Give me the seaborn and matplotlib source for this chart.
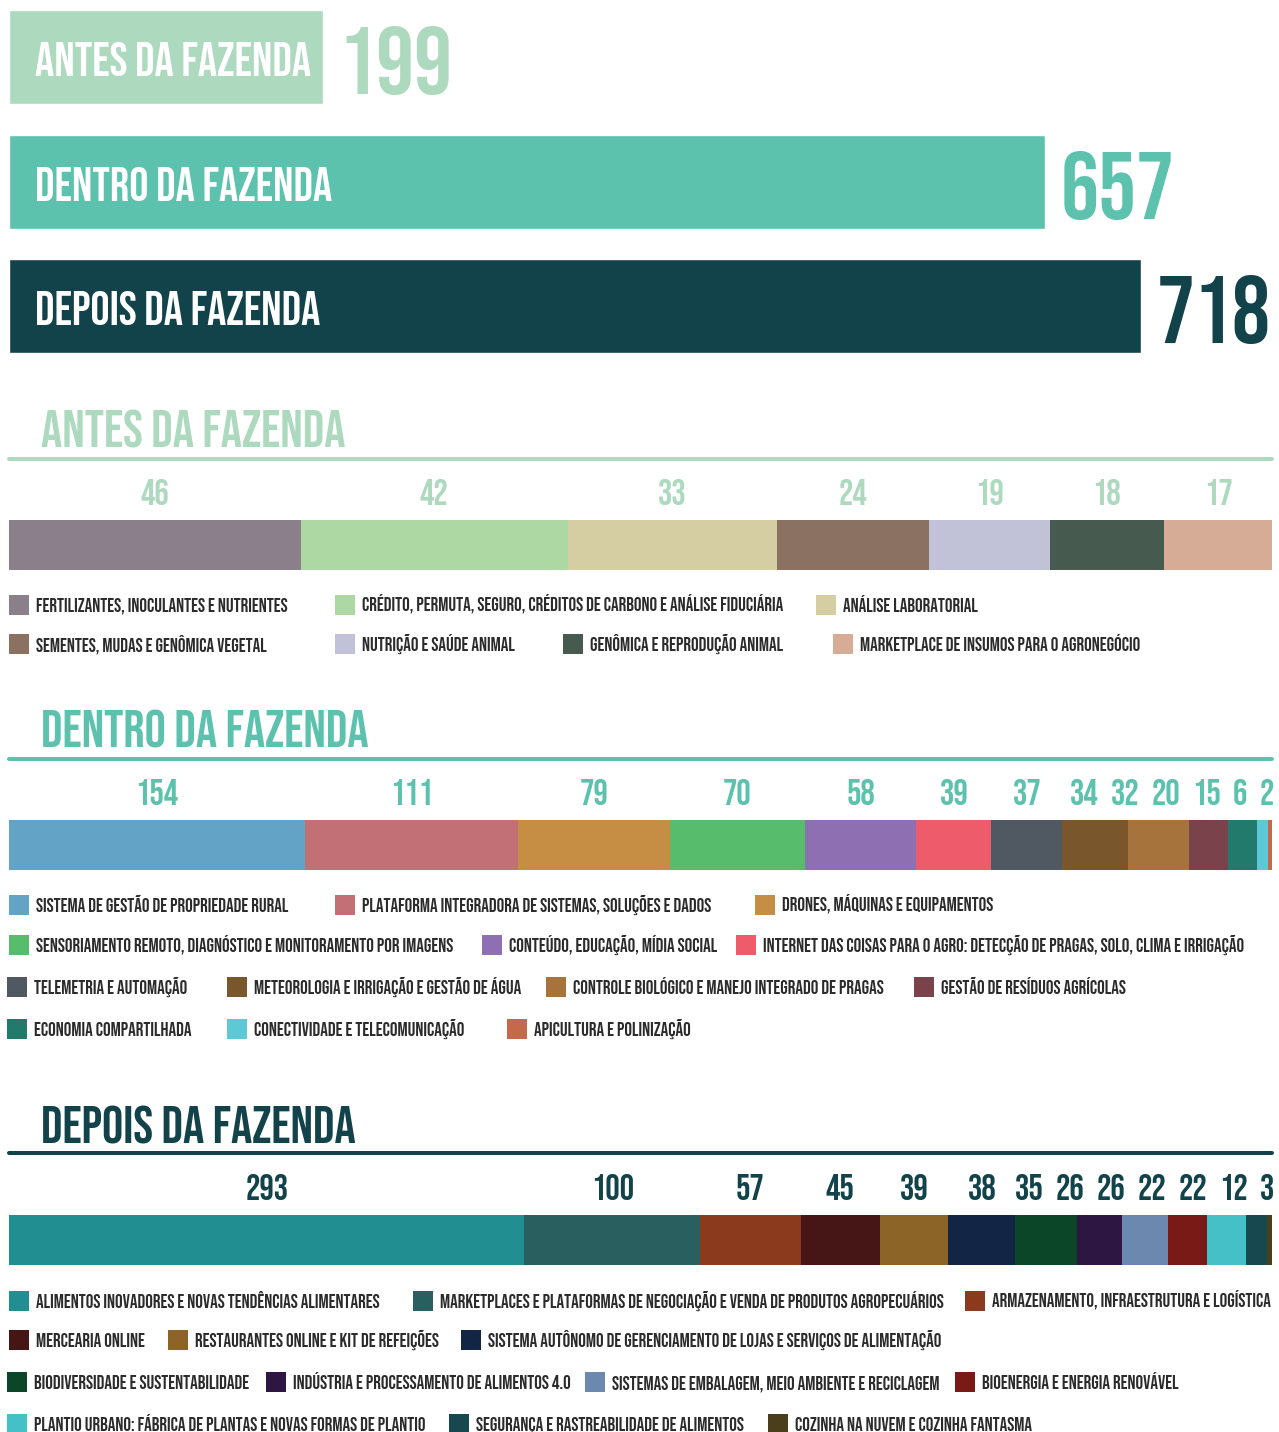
import matplotlib
matplotlib.use("Agg")
import matplotlib.pyplot as plt
import matplotlib.transforms as mtransforms
from matplotlib.patches import Rectangle
from matplotlib.lines import Line2D
import numpy as np
import pandas as pd
import seaborn as sns

# ---- data ----
stages = ["ANTES DA FAZENDA", "DENTRO DA FAZENDA", "DEPOIS DA FAZENDA"]
stage_totals = [199, 657, 718]
stage_colors = ["#ADD9BF", "#5CC2AD", "#13434A"]

antes_labels = [
    "FERTILIZANTES, INOCULANTES E NUTRIENTES",
    "CRÉDITO, PERMUTA, SEGURO, CRÉDITOS DE CARBONO E ANÁLISE FIDUCIÁRIA",
    "ANÁLISE LABORATORIAL",
    "SEMENTES, MUDAS E GENÔMICA VEGETAL",
    "NUTRIÇÃO E SAÚDE ANIMAL",
    "GENÔMICA E REPRODUÇÃO ANIMAL",
    "MARKETPLACE DE INSUMOS PARA O AGRONEGÓCIO",
]
antes_values = [46, 42, 33, 24, 19, 18, 17]
antes_colors = ["#8C7F8C", "#ADD8A3", "#D6CEA3", "#8A7161", "#C1C2D8", "#465A4F", "#D6AC96"]

dentro_labels = [
    "SISTEMA DE GESTÃO DE PROPRIEDADE RURAL",
    "PLATAFORMA INTEGRADORA DE SISTEMAS, SOLUÇÕES E DADOS",
    "DRONES, MÁQUINAS E EQUIPAMENTOS",
    "SENSORIAMENTO REMOTO, DIAGNÓSTICO E MONITORAMENTO POR IMAGENS",
    "CONTEÚDO, EDUCAÇÃO, MÍDIA SOCIAL",
    "INTERNET DAS COISAS PARA O AGRO: DETECÇÃO DE PRAGAS, SOLO, CLIMA E IRRIGAÇÃO",
    "TELEMETRIA E AUTOMAÇÃO",
    "METEOROLOGIA E IRRIGAÇÃO E GESTÃO DE ÁGUA",
    "CONTROLE BIOLÓGICO E MANEJO INTEGRADO DE PRAGAS",
    "GESTÃO DE RESÍDUOS AGRÍCOLAS",
    "ECONOMIA COMPARTILHADA",
    "CONECTIVIDADE E TELECOMUNICAÇÃO",
    "APICULTURA E POLINIZAÇÃO",
]
dentro_values = [154, 111, 79, 70, 58, 39, 37, 34, 32, 20, 15, 6, 2]
dentro_colors = ["#63A3C5", "#C27076", "#C68E45", "#58BC6D", "#8E6FB1", "#EE5B6B", "#505961",
                 "#79562C", "#A7733D", "#7A424A", "#227A6C", "#5EC9D6", "#C4694A"]

depois_labels = [
    "ALIMENTOS INOVADORES E NOVAS TENDÊNCIAS ALIMENTARES",
    "MARKETPLACES E PLATAFORMAS DE NEGOCIAÇÃO E VENDA DE PRODUTOS AGROPECUÁRIOS",
    "ARMAZENAMENTO, INFRAESTRUTURA E LOGÍSTICA",
    "MERCEARIA ONLINE",
    "RESTAURANTES ONLINE E KIT DE REFEIÇÕES",
    "SISTEMA AUTÔNOMO DE GERENCIAMENTO DE LOJAS E SERVIÇOS DE ALIMENTAÇÃO",
    "BIODIVERSIDADE E SUSTENTABILIDADE",
    "INDÚSTRIA E PROCESSAMENTO DE ALIMENTOS 4.0",
    "SISTEMAS DE EMBALAGEM, MEIO AMBIENTE E RECICLAGEM",
    "BIOENERGIA E ENERGIA RENOVÁVEL",
    "PLANTIO URBANO: FÁBRICA DE PLANTAS E NOVAS FORMAS DE PLANTIO",
    "SEGURANÇA E RASTREABILIDADE DE ALIMENTOS",
    "COZINHA NA NUVEM E COZINHA FANTASMA",
]
depois_values = [293, 100, 57, 45, 39, 38, 35, 26, 26, 22, 22, 12, 3]
depois_colors = ["#218E91", "#295F5F", "#8B3A1E", "#461515", "#8D6428", "#132545", "#0B4628",
                 "#2E1643", "#6C88AE", "#7A1A17", "#45C0C7", "#17484F", "#4A3F1A"]

# ---- layout (pixels) ----
W, H = 1279, 1432
antes_rows = [(605, [(0, 9), (1, 335), (2, 816)]),
              (644, [(3, 9), (4, 335), (5, 563), (6, 833)])]
dentro_rows = [(905, [(0, 9), (1, 335), (2, 755)]),
               (945, [(3, 9), (4, 482), (5, 736)]),
               (987, [(6, 7), (7, 227), (8, 546), (9, 914)]),
               (1029, [(10, 7), (11, 227), (12, 507)])]
depois_rows = [(1301, [(0, 9), (1, 413), (2, 965)]),
               (1340, [(3, 9), (4, 168), (5, 461)]),
               (1382, [(6, 7), (7, 266), (8, 585), (9, 955)]),
               (1424, [(10, 7), (11, 449), (12, 768)])]

sns.set_theme(style="white")
plt.rcParams["font.family"] = ["Bebas Neue", "Antonio", "DejaVu Sans"]

fig = plt.figure(figsize=(W / 100, H / 100), dpi=100)
fig.patch.set_facecolor("white")


def fx(px):
    return px / W


def fy(py):
    return 1 - py / H


def pt(px):
    return px * 0.72


# ---- top totals ----
top = pd.DataFrame({"etapa": stages, "total": stage_totals})
ax0 = fig.add_axes([fx(9), fy(367), fx(1132), 367 / H])
sns.barplot(data=top, x="total", y="etapa", hue="etapa", palette=stage_colors,
            orient="h", width=0.755, saturation=1, legend=False, ax=ax0)
ax0.set_xlim(0, max(stage_totals))
ax0.set_ylim(2.49, -0.458)
ax0.axis("off")

fig.canvas.draw()
r = fig.canvas.get_renderer()

in_trans = mtransforms.offset_copy(ax0.transData, fig=fig, x=26, y=-19, units="dots")
inner = [ax0.text(0, i, s, transform=in_trans, color="white", fontsize=pt(54), va="baseline")
         for i, s in enumerate(stages)]
# shrink label size until every label fits inside its bar
bar_px = [v / max(stage_totals) * 1132 for v in stage_totals]
scale = min(1.0, min((bw - 38) / t.get_window_extent(r).width for bw, t in zip(bar_px, inner)))
for t in inner:
    t.set_fontsize(pt(54) * scale)

val_trans = mtransforms.offset_copy(ax0.transData, fig=fig, x=16, y=-37, units="dots")
for i, (v, c) in enumerate(zip(stage_totals, stage_colors)):
    ax0.text(v, i, str(v), transform=val_trans, color=c, fontsize=pt(95), va="baseline")


# ---- stacked sections ----
def section(title, color, values, labels, colors, rows, y_title, y_line, y_num, y_bar):
    fig.text(fx(41), fy(y_title), title, color=color, fontsize=pt(53), va="baseline")
    fig.add_artist(Line2D([fx(9), fx(1272)], [fy(y_line)] * 2, color=color, lw=pt(4),
                          transform=fig.transFigure))

    ax = fig.add_axes([fx(9), fy(y_bar + 50), fx(1263), 50 / H])
    left = np.concatenate([[0], np.cumsum(values)[:-1]])
    ax.barh(0, values, left=left, height=1, color=colors, linewidth=0)
    ax.set_xlim(0, sum(values))
    ax.set_ylim(-0.5, 0.5)
    ax.axis("off")

    # value labels above each segment, nudged left where they would collide
    centers = left + np.array(values) / 2
    xs = ax.transData.transform(np.column_stack([centers, np.zeros(len(values))]))[:, 0]
    nums = [fig.text(0, fy(y_num), str(v), color=color, fontsize=pt(36), va="baseline",
                     ha="center") for v in values]
    hw = np.array([t.get_window_extent(r).width for t in nums]) / 2
    pos = xs.copy()
    pos[-1] = min(pos[-1], 1274 - hw[-1])
    gap = 12
    for i in range(len(pos) - 2, -1, -1):
        pos[i] = min(pos[i], pos[i + 1] - hw[i + 1] - hw[i] - gap)
    for t, p in zip(nums, pos):
        t.set_x(p / W)

    # legend
    for y, items in rows:
        for idx, x in items:
            fig.add_artist(Rectangle((fx(x), fy(y + 10)), 20 / W, 20 / H, color=colors[idx],
                                     transform=fig.transFigure, linewidth=0))
            fig.text(fx(x + 27), fy(y + 7), labels[idx], color="#2B2B2B", fontsize=pt(19),
                     va="baseline")


section(stages[0], stage_colors[0], antes_values, antes_labels, antes_colors, antes_rows,
        448, 459, 505, 520)
section(stages[1], stage_colors[1], dentro_values, dentro_labels, dentro_colors, dentro_rows,
        748, 759, 805, 820)
section(stages[2], stage_colors[2], depois_values, depois_labels, depois_colors, depois_rows,
        1143, 1153, 1200, 1215)

fig.savefig("out.png", dpi=100, facecolor="white")
